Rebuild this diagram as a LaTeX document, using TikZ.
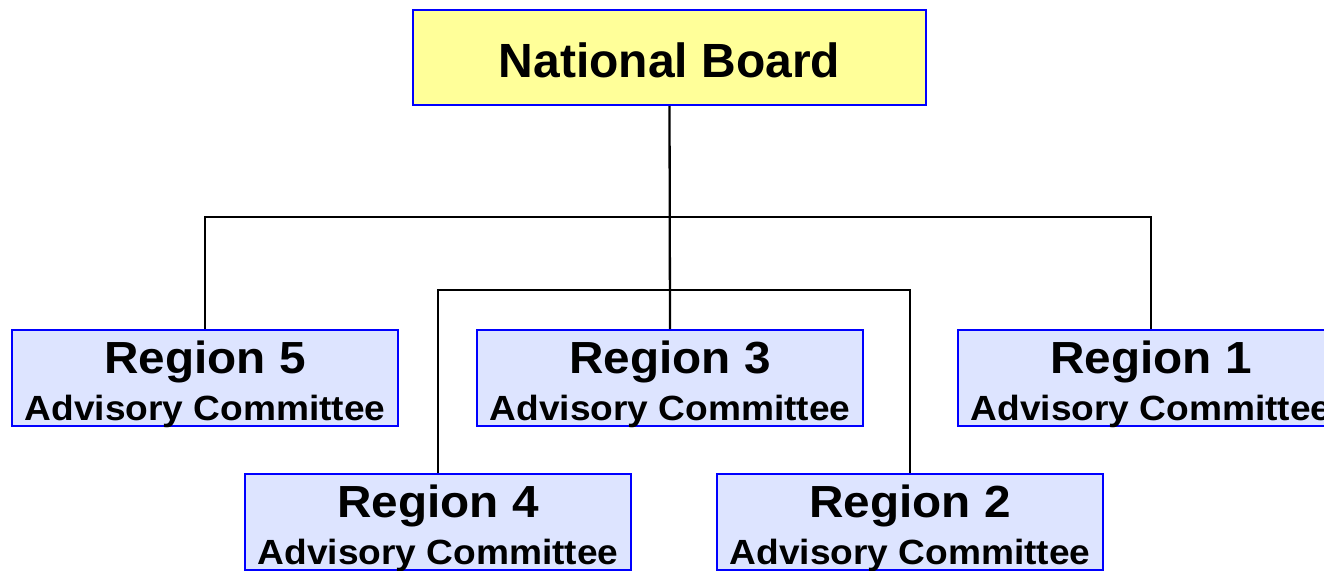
\documentclass[tikz,border=0pt]{standalone}
\usepackage{fontspec}
\setmainfont{Liberation Sans}
\newfontfamily\boxfont[FakeStretch=1.06]{Liberation Sans}
\definecolor{boardfill}{RGB}{255,255,153}
\definecolor{regionfill}{RGB}{221,228,255}
\definecolor{boxblue}{RGB}{0,0,255}

\tikzset{
  boardbox/.style={draw=boxblue, fill=boardfill, line width=2pt,
    minimum width=513pt, minimum height=95pt, inner sep=0pt,
    text height=40pt, text depth=0pt,
    font=\fontsize{48}{50}\selectfont\bfseries},
  regionbox/.style={draw=boxblue, fill=regionfill, line width=2pt,
    minimum width=386pt, minimum height=96pt, inner sep=0pt, align=center,
    text height=84pt, text depth=0pt,
    font=\boxfont\fontsize{35}{47}\selectfont\bfseries},
  link/.style={line width=2.3pt, black}
}
\newcommand{\regionname}[1]{{\fontsize{45}{47}\selectfont Region #1}\\Advisory Committee}

\begin{document}
\begin{tikzpicture}[x=1pt, y=-1pt]
\useasboundingbox (0,0) rectangle (1324,570);

\node[boardbox] (nb) at (669.5,57.5) {National Board};

\node[regionbox] (r5) at (205,378) {\regionname{5}};
\node[regionbox] (r3) at (670,378) {\regionname{3}};
\node[regionbox] (r1) at (1151,378) {\regionname{1}};
\node[regionbox] (r4) at (438,522) {\regionname{4}};
\node[regionbox] (r2) at (910,522) {\regionname{2}};

% bus lines
\coordinate (bus1) at (669.5,217);
\coordinate (bus2) at (669.5,290);

\draw[link] (nb.south) -- (r3.north);
\draw[link] (r5.north) |- (bus1) -| (r1.north);
\draw[link] (r4.north) |- (bus2) -| (r2.north);
\end{tikzpicture}
\end{document}
